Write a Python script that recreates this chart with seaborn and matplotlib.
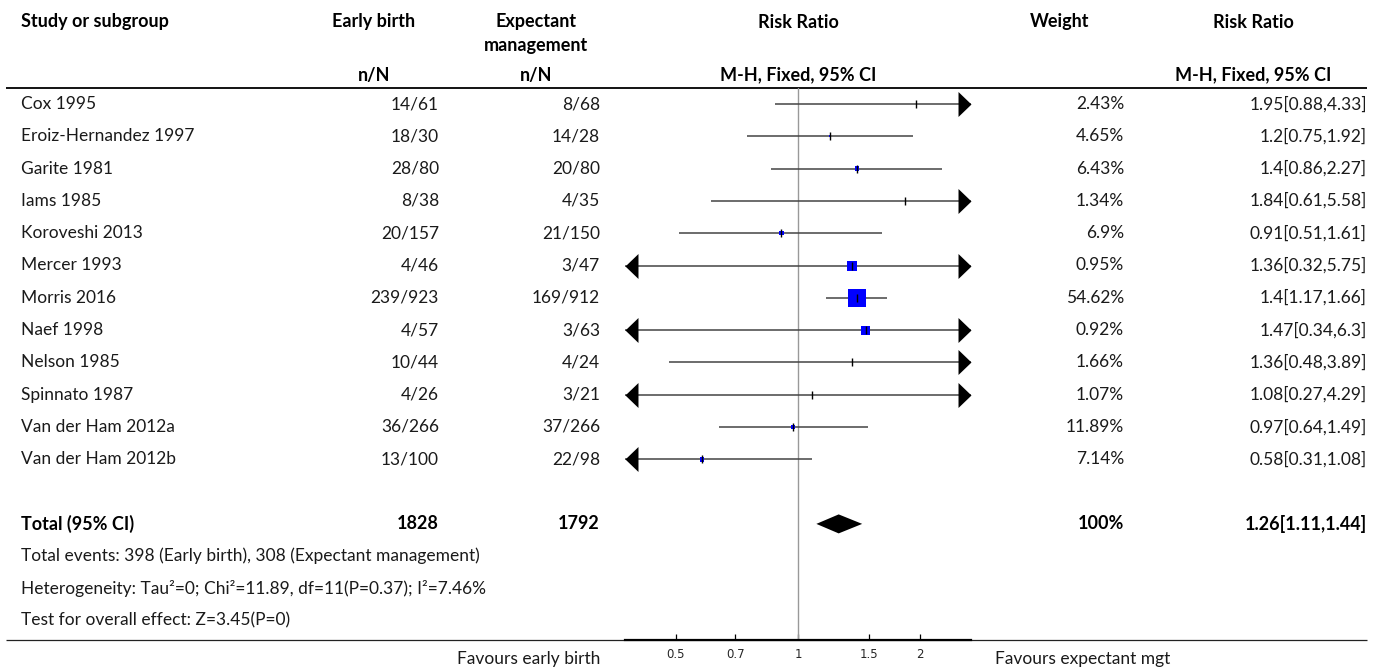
import matplotlib
matplotlib.use("Agg")
import matplotlib.pyplot as plt
import numpy as np
import pandas as pd
import seaborn as sns

# ---- data ----
studies = ["Cox 1995", "Eroiz-Hernandez 1997", "Garite 1981", "Iams 1985",
           "Koroveshi 2013", "Mercer 1993", "Morris 2016", "Naef 1998",
           "Nelson 1985", "Spinnato 1987", "Van der Ham 2012a", "Van der Ham 2012b"]
early_n = [14, 18, 28, 8, 20, 4, 239, 4, 10, 4, 36, 13]
early_N = [61, 30, 80, 38, 157, 46, 923, 57, 44, 26, 266, 100]
expect_n = [8, 14, 20, 4, 21, 3, 169, 3, 4, 3, 37, 22]
expect_N = [68, 28, 80, 35, 150, 47, 912, 63, 24, 21, 266, 98]
weight = [2.43, 4.65, 6.43, 1.34, 6.9, 0.95, 54.62, 0.92, 1.66, 1.07, 11.89, 7.14]
rr = [1.95, 1.2, 1.4, 1.84, 0.91, 1.36, 1.4, 1.47, 1.36, 1.08, 0.97, 0.58]
rr_lo = [0.88, 0.75, 0.86, 0.61, 0.51, 0.32, 1.17, 0.34, 0.48, 0.27, 0.64, 0.31]
rr_hi = [4.33, 1.92, 2.27, 5.58, 1.61, 5.75, 1.66, 6.3, 3.89, 4.29, 1.49, 1.08]

total_early = 1828
total_expect = 1792
total_rr, total_lo, total_hi = 1.26, 1.11, 1.44
ticks = [0.5, 0.7, 1, 1.5, 2]

footnotes = ["Total events: 398 (Early birth), 308 (Expectant management)",
             "Heterogeneity: Tau\u00b2=0; Chi\u00b2=11.89, df=11(P=0.37); I\u00b2=7.46%",
             "Test for overall effect: Z=3.45(P=0)"]

# square side in pixels as drawn in the original (style, not data)
square_px = [0, 2, 4.5, 0, 4.5, 10, 18, 9, 0, 0, 4, 4.5]

sns.set_theme(style="white")
plt.rcParams["font.family"] = ["Lato", "DejaVu Sans"]
FS = 12.5     # body text
FSB = 13      # bold header text

W, H = 1375, 667
fig = plt.figure(figsize=(W / 100, H / 100), dpi=100)

# text layer in pixel coordinates
tx = fig.add_axes([0, 0, 1, 1])
tx.set_xlim(0, W)
tx.set_ylim(H, 0)
tx.axis("off")

row0, step = 104, 32.3
ypos = [row0 + i * step for i in range(len(studies))]
y_total = row0 + 13 * step
x_ax0, x_ax1 = 625, 971
y_top, y_bot = 88, 640

# column header
hdr = dict(fontsize=FSB, fontweight="bold", color="black", va="center")
tx.text(21, 22, "Study or subgroup", ha="left", **hdr)
tx.text(374, 22, "Early birth", ha="center", **hdr)
tx.text(536, 22, "Expectant", ha="center", **hdr)
tx.text(536, 46, "management", ha="center", **hdr)
tx.text(798, 22, "Risk Ratio", ha="center", **hdr)
tx.text(1060, 22, "Weight", ha="center", **hdr)
tx.text(1253, 22, "Risk Ratio", ha="center", **hdr)
tx.text(374, 75, "n/N", ha="center", **hdr)
tx.text(536, 75, "n/N", ha="center", **hdr)
tx.text(798, 75, "M-H, Fixed, 95% CI", ha="center", **hdr)
tx.text(1253, 75, "M-H, Fixed, 95% CI", ha="center", **hdr)
tx.plot([6, 1367], [y_top, y_top], color="black", lw=1.3, solid_capstyle="butt")
tx.plot([6, 1367], [y_bot, y_bot], color="#222222", lw=0.9, solid_capstyle="butt")

body = dict(fontsize=FS, color="#1a1a1a", va="center")
for i, name in enumerate(studies):
    y = ypos[i]
    tx.text(21, y, name, ha="left", **body)
    tx.text(439, y, f"{early_n[i]}/{early_N[i]}", ha="right", **body)
    tx.text(600, y, f"{expect_n[i]}/{expect_N[i]}", ha="right", **body)
    tx.text(1124, y, f"{weight[i]:g}%", ha="right", **body)
    tx.text(1367, y, f"{rr[i]:g}[{rr_lo[i]:g},{rr_hi[i]:g}]", ha="right", **body)

bold = dict(fontsize=FSB, fontweight="bold", color="black", va="center")
tx.text(21, y_total, "Total (95% CI)", ha="left", **bold)
tx.text(439, y_total, f"{total_early}", ha="right", **bold)
tx.text(600, y_total, f"{total_expect}", ha="right", **bold)
tx.text(1124, y_total, f"{sum(weight):.0f}%", ha="right", **bold)
tx.text(1367, y_total, f"{total_rr:g}[{total_lo:g},{total_hi:g}]", ha="right", **bold)
for k, line in enumerate(footnotes):
    tx.text(21, y_total + (k + 1) * step, line, ha="left", **body)

tx.text(600, 659, "Favours early birth", ha="right", **body)
tx.text(995, 659, "Favours expectant mgt", ha="left", **body)

# forest panel
ax = fig.add_axes([x_ax0 / W, (H - y_bot) / H, (x_ax1 - x_ax0) / W, (y_bot - y_top) / H])
ax.patch.set_alpha(0)
ax.set_xscale("log")
xmin, xmax = 0.3743, 2.672
ax.set_xlim(xmin, xmax)
ax.set_ylim(y_bot, y_top)
ax.axvline(1, color="#999999", lw=1)

df = pd.DataFrame({"rr": rr, "lo": rr_lo, "hi": rr_hi, "y": ypos,
                   "area": [(s * 0.72) ** 2 for s in square_px]})
ax.hlines(df["y"], df["lo"].clip(lower=xmin), df["hi"].clip(upper=xmax),
          color="#444444", lw=1.1)
amax = df["area"].max()
sns.scatterplot(data=df, x="rr", y="y", size="area", sizes=(0, amax), size_norm=(0, amax),
                marker="s", color="#0000ff", linewidth=0, legend=False, ax=ax, zorder=3)
ax.plot(df["rr"], df["y"], ls="none", marker="|", ms=5.8, mew=1, color="black", zorder=4)

right_tip = [(-13, -12.5), (0, 0), (-13, 12.5)]
left_tip = [(13, -12.5), (0, 0), (13, 12.5)]
over = df[df["hi"] > xmax]
under = df[df["lo"] < xmin]
ax.plot([xmax] * len(over), over["y"], ls="none", marker=right_tip, ms=18.7,
        color="black", mew=0, clip_on=False, zorder=5)
ax.plot([xmin] * len(under), under["y"], ls="none", marker=left_tip, ms=18.7,
        color="black", mew=0, clip_on=False, zorder=5)

ax.fill([total_lo, total_rr, total_hi, total_rr],
        [y_total, y_total - 9.5, y_total, y_total + 9.5], color="black", lw=0)

for side in ["top", "left", "right"]:
    ax.spines[side].set_visible(False)
ax.spines["bottom"].set_linewidth(1.6)
ax.spines["bottom"].set_color("black")
ax.set_yticks([])
ax.set_xticks(ticks)
ax.set_xticklabels([f"{t:g}" for t in ticks])
ax.minorticks_off()
ax.tick_params(axis="x", direction="in", length=4, width=0.9, color="black",
               labelsize=8.5, pad=6, bottom=True)
for lab in ax.get_xticklabels():
    lab.set_fontfamily("DejaVu Sans")
ax.set_xlabel("")
ax.set_ylabel("")

fig.savefig("out.png", dpi=100)
